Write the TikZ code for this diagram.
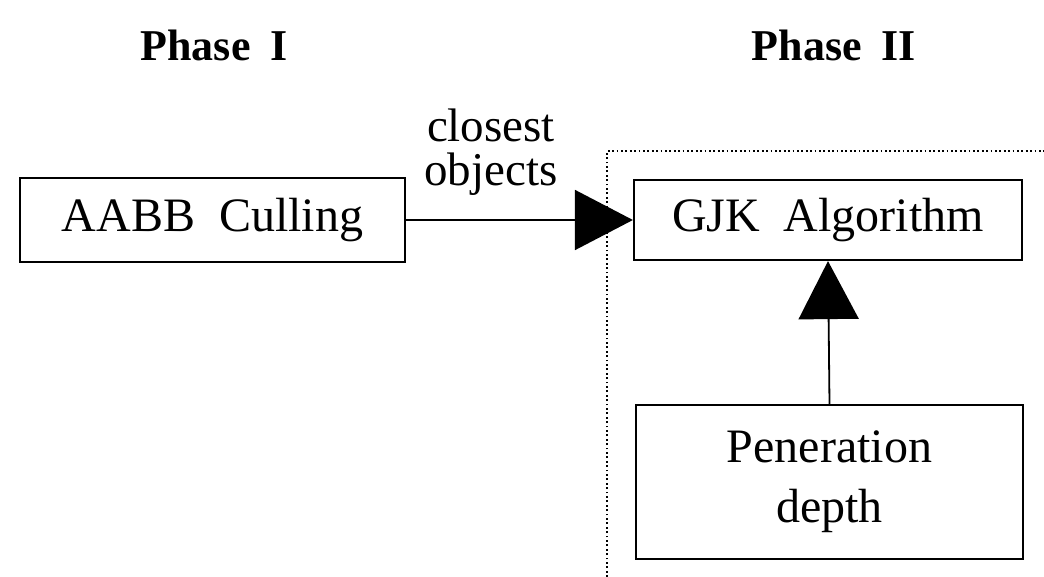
\documentclass[tikz,border=0pt]{standalone}
\usepackage{fontspec}
\setmainfont{Liberation Serif}
\usetikzlibrary{arrows.meta}
\tikzset{
  blockbox/.style={draw, line width=2.2pt, inner sep=0pt, font=\fontsize{48}{60}\selectfont, align=center},
  bigarrow/.style={line width=1.8pt, -{Triangle[length=58pt,width=60pt]}},
  phaselabel/.style={font=\fontsize{44}{48}\selectfont\bfseries},
  edgelabel/.style={font=\fontsize{47}{44}\selectfont, align=center, inner sep=0pt},
  frame/.style={line width=1.8pt, dash pattern=on 1.8pt off 2.6pt}
}
\begin{document}
\begin{tikzpicture}[x=1pt,y=-1pt]
\useasboundingbox (0,0) rectangle (1044,577);
\node[phaselabel] (ph1) at (214,45) {Phase\hspace{0.45em}I};
\node[phaselabel] (ph2) at (834,45) {Phase\hspace{0.45em}II};
\node[blockbox, minimum width=385pt, minimum height=84pt] (aabb) at (212.5,220) {AABB\hspace{0.5em}Culling};
\node[blockbox, minimum width=388pt, minimum height=80pt] (gjk) at (828,220) {GJK\hspace{0.5em}Algorithm};
\node[blockbox, minimum width=387pt, minimum height=154pt] (pen) at (829.5,482) {Peneration\\depth};
\coordinate (fb) at (607,577);
\coordinate (fc) at (607,151);
\coordinate (fr) at (1044,151);
\draw[frame] (fb) -- (fc) -- (fr);
\draw[bigarrow] (aabb.east) -- (gjk.west);
\draw[bigarrow] (pen.north) -- (gjk.south);
\node[edgelabel] (lbl) at (491,152) {closest\\objects};
\end{tikzpicture}
\end{document}
